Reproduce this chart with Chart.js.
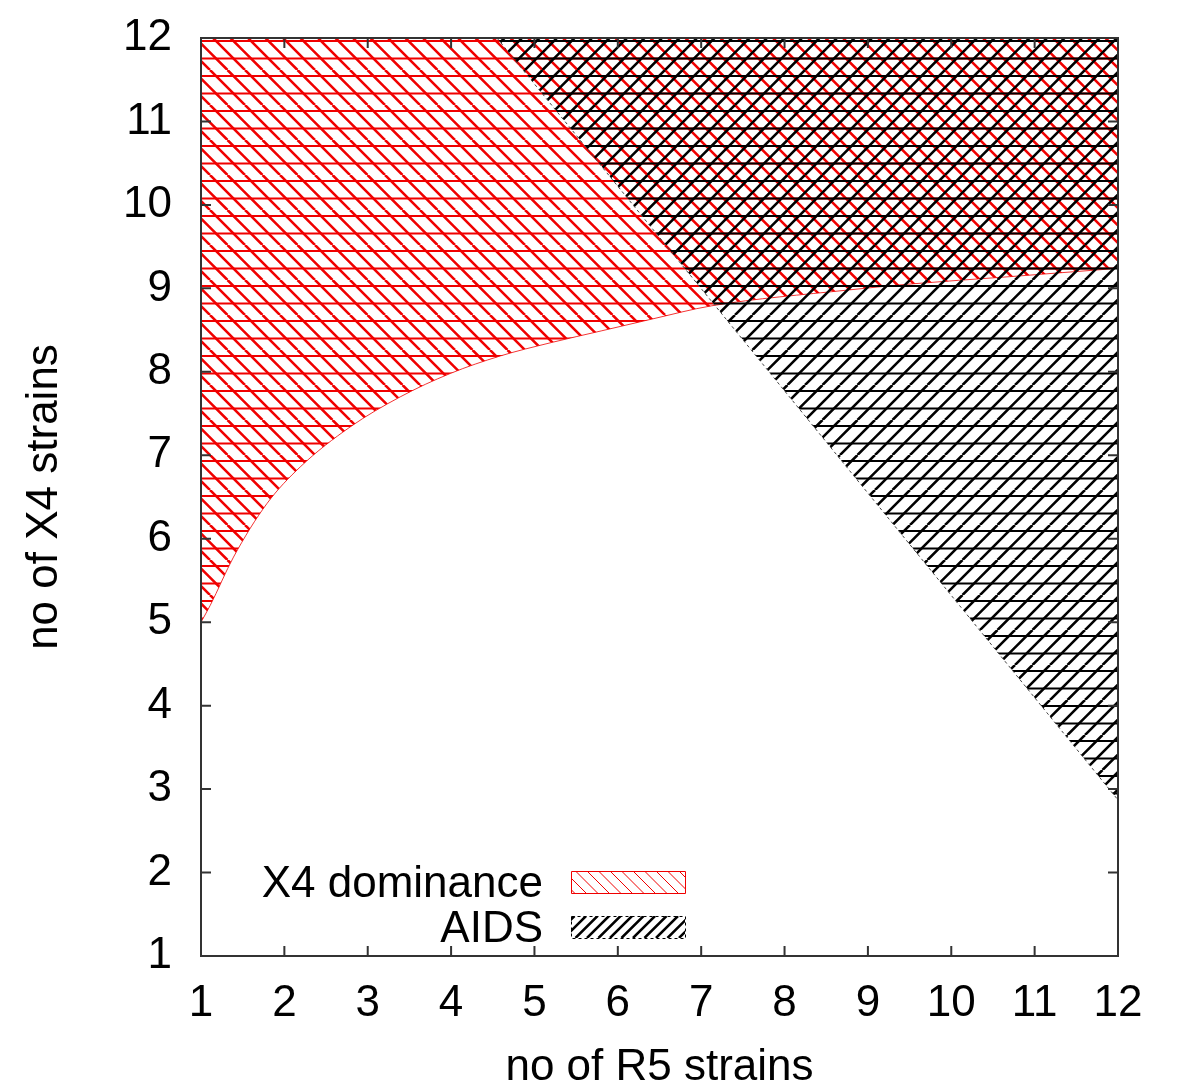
<!DOCTYPE html>
<html>
<head>
<meta charset="utf-8">
<script src="https://cdn.jsdelivr.net/npm/chart.js@4"></script>
<style>
  html, body { margin: 0; padding: 0; background: #fff; }
</style>
</head>
<body>
<canvas id="phase-chart" width="1200" height="1089"></canvas>
<script>
// axis ticks (both axes run 1..12)
const tickValues = [1, 2, 3, 4, 5, 6, 7, 8, 9, 10, 11, 12];

// lower edge of the X4 dominance region (filled up to the top)
const x4EdgeX = [1, 1.11, 1.39, 1.79, 2.19, 2.79, 3.39, 3.99, 4.59, 5.2, 5.8, 6.4, 7.12, 8.76, 9.48, 10.7, 12];
const x4EdgeY = [5, 5.2, 5.78, 6.42, 6.86, 7.34, 7.7, 7.98, 8.19, 8.35, 8.49, 8.63, 8.79, 8.98, 9.05, 9.14, 9.24];

// lower-left edge of the AIDS region (filled up to the top)
const aidsEdgeX = [4.55, 12];
const aidsEdgeY = [12, 2.87];

const legendLabels = ["X4 dominance", "AIDS"];

const FONT = "'Liberation Sans', Arial, Helvetica, sans-serif";

const toPoints = (xs, ys) => xs.map((x, i) => ({ x: x, y: ys[i] }));

// hatch tile: horizontal strokes + one diagonal direction
const makeHatch = (color, dir) => {
  const size = 35;
  const c = document.createElement("canvas");
  c.width = size;
  c.height = size;
  const g = c.getContext("2d");
  g.strokeStyle = color;
  g.lineWidth = 2;
  g.beginPath();
  [6, 23.5].forEach((y) => {
    g.moveTo(0, y);
    g.lineTo(size, y);
  });
  g.stroke();
  g.lineWidth = 2.6;
  g.beginPath();
  for (let k = -2; k <= 4; k++) {
    const o = k * 17.5;
    if (dir === "back") {
      g.moveTo(o, 0);
      g.lineTo(o + size, size);
    } else {
      g.moveTo(o, size);
      g.lineTo(o + size, 0);
    }
  }
  g.stroke();
  return g.createPattern(c, "repeat");
};

const redHatch = makeHatch("rgb(240,0,0)", "back");
const blackHatch = makeHatch("#000", "fwd");

const framePlugin = {
  id: "frame",
  afterDraw(chart) {
    const { ctx, chartArea: a, scales } = chart;
    ctx.save();
    ctx.strokeStyle = "#333";
    ctx.lineWidth = 2;
    ctx.strokeRect(a.left, a.top, a.right - a.left, a.bottom - a.top);
    ctx.beginPath();
    scales.x.ticks.forEach((t) => {
      const px = scales.x.getPixelForValue(t.value);
      ctx.moveTo(px, a.bottom);
      ctx.lineTo(px, a.bottom - 10);
      ctx.moveTo(px, a.top);
      ctx.lineTo(px, a.top + 10);
    });
    scales.y.ticks.forEach((t) => {
      const py = scales.y.getPixelForValue(t.value);
      ctx.moveTo(a.left, py);
      ctx.lineTo(a.left + 10, py);
      ctx.moveTo(a.right, py);
      ctx.lineTo(a.right - 10, py);
    });
    ctx.stroke();

    // key, bottom left inside the plot
    ctx.font = "44px " + FONT;
    ctx.fillStyle = "#000";
    ctx.textAlign = "right";
    ctx.textBaseline = "alphabetic";
    const boxL = 571, boxW = 114, boxH = 22;
    const rows = [897, 942];
    legendLabels.forEach((label, i) => {
      ctx.fillText(label, 543, rows[i]);
      const top = rows[i] - 26;
      ctx.save();
      ctx.beginPath();
      ctx.rect(boxL, top, boxW, boxH);
      ctx.clip();
      ctx.beginPath();
      for (let x = boxL - 30; x < boxL + boxW + 30; x += 11.5) {
        if (i === 0) {
          ctx.moveTo(x, top);
          ctx.lineTo(x + boxH, top + boxH);
        } else {
          ctx.moveTo(x, top + boxH);
          ctx.lineTo(x + boxH, top);
        }
      }
      ctx.strokeStyle = i === 0 ? "rgb(240,0,0)" : "#000";
      ctx.lineWidth = i === 0 ? 1 : 2.5;
      ctx.stroke();
      ctx.restore();
      ctx.beginPath();
      ctx.rect(boxL + 0.5, top + 0.5, boxW, boxH);
      if (i === 0) {
        ctx.strokeStyle = "rgb(240,0,0)";
        ctx.setLineDash([]);
      } else {
        ctx.strokeStyle = "#000";
        ctx.setLineDash([3, 3]);
      }
      ctx.lineWidth = 1;
      ctx.stroke();
      ctx.setLineDash([]);
    });
    ctx.restore();
  },
};

const noOverhang = (s) => {
  s.paddingTop = 0;
  s.paddingBottom = 0;
  s.paddingLeft = 0;
  s.paddingRight = 0;
};

const axisCommon = {
  type: "linear",
  min: 1,
  max: 12,
  afterBuildTicks: (s) => {
    s.ticks = tickValues.map((v) => ({ value: v }));
  },
  grid: { display: false, drawTicks: false },
  border: { display: false },
};

new Chart(document.getElementById("phase-chart"), {
  type: "scatter",
  data: {
    datasets: [
      {
        label: legendLabels[0],
        data: toPoints(x4EdgeX, x4EdgeY),
        showLine: true,
        pointRadius: 0,
        borderColor: "rgba(240,0,0,0.8)",
        borderWidth: 1,
        cubicInterpolationMode: "monotone",
        backgroundColor: redHatch,
        fill: "end",
        order: 1,
      },
      {
        label: legendLabels[1],
        data: toPoints(aidsEdgeX, aidsEdgeY),
        showLine: true,
        pointRadius: 0,
        borderColor: "#444",
        borderWidth: 1,
        borderDash: [3, 3],
        backgroundColor: blackHatch,
        fill: "end",
        order: 0,
      },
    ],
  },
  options: {
    responsive: false,
    animation: false,
    layout: { padding: { left: 0, top: 38, right: 82, bottom: 0 } },
    scales: {
      x: {
        ...axisCommon,
        afterFit: (s) => {
          s.height = 133;
          noOverhang(s);
        },
        ticks: {
          color: "#000",
          padding: 21,
          font: { family: FONT, size: 44 },
        },
        title: {
          display: true,
          text: "no of R5 strains",
          color: "#000",
          padding: { top: 0, bottom: -5 },
          font: { family: FONT, size: 44 },
        },
      },
      y: {
        ...axisCommon,
        afterFit: (s) => {
          s.width = 201;
          noOverhang(s);
        },
        ticks: {
          color: "#000",
          padding: 29,
          font: { family: FONT, size: 44 },
        },
        title: {
          display: true,
          text: "no of X4 strains",
          color: "#000",
          padding: { top: 18, bottom: 0 },
          font: { family: FONT, size: 44 },
        },
      },
    },
    plugins: {
      legend: { display: false },
      tooltip: { enabled: false },
    },
  },
  plugins: [framePlugin],
});
</script>
</body>
</html>
